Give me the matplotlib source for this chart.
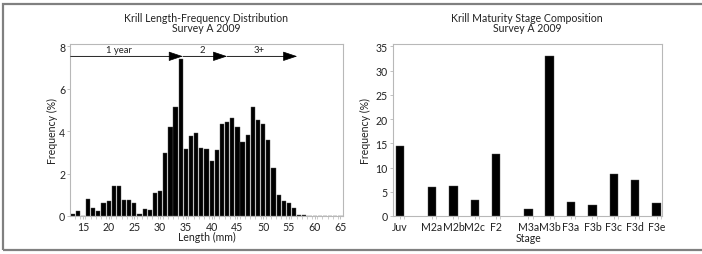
import matplotlib
matplotlib.use("Agg")
import matplotlib.pyplot as plt
from matplotlib.patches import Rectangle

# ===== DATA =====
lengths = list(range(13, 66))
length_freq = [0.08, 0.25, 0.0, 0.8, 0.4, 0.25, 0.6, 0.7, 1.4, 1.4,
               0.75, 0.75, 0.63, 0.1, 0.34, 0.3, 1.08, 1.19, 2.97, 4.19,
               5.15, 7.4, 3.16, 3.78, 3.9, 3.22, 3.17, 2.6, 3.09, 4.31,
               4.45, 4.62, 4.19, 3.5, 3.83, 5.15, 4.53, 4.33, 3.6, 2.28,
               0.97, 0.7, 0.61, 0.39, 0.05, 0.03, 0.02, 0.0, 0.0, 0.0,
               0.0, 0.0, 0.0]
length_ticks = [15, 20, 25, 30, 35, 40, 45, 50, 55, 60, 65]

# age cohorts drawn as arrows across the top
cohort_names = ["1 year", "2", "3+"]
cohort_edges = [12.6, 34.4, 43.0, 56.6]

stages = ["Juv", "M2a", "M2b", "M2c", "F2", "M3a", "M3b",
          "F3a", "F3b", "F3c", "F3d", "F3e"]
stage_freq = [14.4, 6.0, 6.2, 3.3, 12.8, 1.5, 33.0,
              2.9, 2.2, 8.7, 7.4, 2.6]
gap_after = ["Juv", "F2"]   # extra half-slot after these stages

# ===== STYLE =====
plt.rcParams["font.family"] = ["Lato", "DejaVu Sans"]
FS = 7.6
SPINE = "#b8b8b8"
TXT = "#222222"

fig = plt.figure(figsize=(7.02, 2.55), dpi=100)

# border around the whole figure
fig.patches.append(Rectangle((3 / 702, 4 / 255), 1.0, 1 - 9 / 255,
                             transform=fig.transFigure, fill=False,
                             edgecolor="#808080", linewidth=1.6))


def style_axes(ax):
    for s in ax.spines.values():
        s.set_color(SPINE)
        s.set_linewidth(0.8)
    ax.tick_params(axis="both", colors=SPINE, labelcolor=TXT,
                   length=2, width=0.6, pad=1.5, labelsize=FS)
    ax.tick_params(axis="x", which="minor", colors=SPINE, length=2, width=0.5)


# ----- left: length-frequency -----
ax1 = fig.add_axes([70 / 702, 38 / 255, 273 / 702, 172 / 255])
ax1.bar(lengths, length_freq, width=0.82, color="black",
        edgecolor="#555555", linewidth=0.3)
ax1.set_xlim(12.5, 65.5)
ax1.set_ylim(0, 8.1)
ax1.set_xticks(length_ticks)
ax1.set_xticks([v + 0.5 for v in lengths[:-1]], minor=True)
ax1.set_yticks([0, 2, 4, 6, 8])
ax1.tick_params(axis="x", which="major", length=0)
style_axes(ax1)
ax1.set_xlabel("Length (mm)", color=TXT, labelpad=-1, fontsize=FS)
ax1.set_ylabel("Frequency (%)", color=TXT, labelpad=1, fontsize=FS)
ax1.set_title("Krill Length-Frequency Distribution\nSurvey A 2009",
              color=TXT, fontsize=FS, pad=9, linespacing=0.95)

arrow_y = 7.52
for i, name in enumerate(cohort_names):
    x0, x1 = cohort_edges[i], cohort_edges[i + 1]
    ax1.annotate("", xy=(x1, arrow_y), xytext=(x0, arrow_y),
                 arrowprops=dict(arrowstyle="-|>,head_length=0.9,head_width=0.3",
                                 color="black", lw=0.5, shrinkA=0, shrinkB=0,
                                 mutation_scale=10))
    ax1.plot([x0, x1 - 2], [arrow_y, arrow_y], color="#777777", lw=0.6)
    ax1.text((x0 + x1) / 2 - (1.5 if i == 0 else 0.5), arrow_y + 0.1, name,
             ha="center", va="bottom", color=TXT, fontsize=6.8)

# ----- right: maturity stages -----
pos = []
p = 0.0
for st in stages:
    pos.append(p)
    p += 1.5 if st in gap_after else 1.0

ax2 = fig.add_axes([392.7 / 702, 38 / 255, 269 / 702, 172 / 255])
ax2.bar(pos, stage_freq, width=0.4, color="black",
        edgecolor="#555555", linewidth=0.3)
ax2.set_xlim(-0.34, 12.24)
ax2.set_ylim(0, 35.5)
ax2.set_yticks([0, 5, 10, 15, 20, 25, 30, 35])
ax2.set_xticks(pos)
ax2.set_xticklabels(stages)
ax2.set_xticks([v + 0.2 for v in pos], minor=True)
ax2.tick_params(axis="x", which="major", length=0)
style_axes(ax2)
ax2.set_xlabel("Stage", color=TXT, labelpad=-1, fontsize=FS)
ax2.xaxis.set_label_coords(0.505, -0.095)
ax2.set_ylabel("Frequency (%)", color=TXT, labelpad=3, fontsize=FS)
ax2.set_title("Krill Maturity Stage Composition\nSurvey A 2009",
              color=TXT, fontsize=FS, pad=9, linespacing=0.95)

fig.savefig("out.png", dpi=100)
